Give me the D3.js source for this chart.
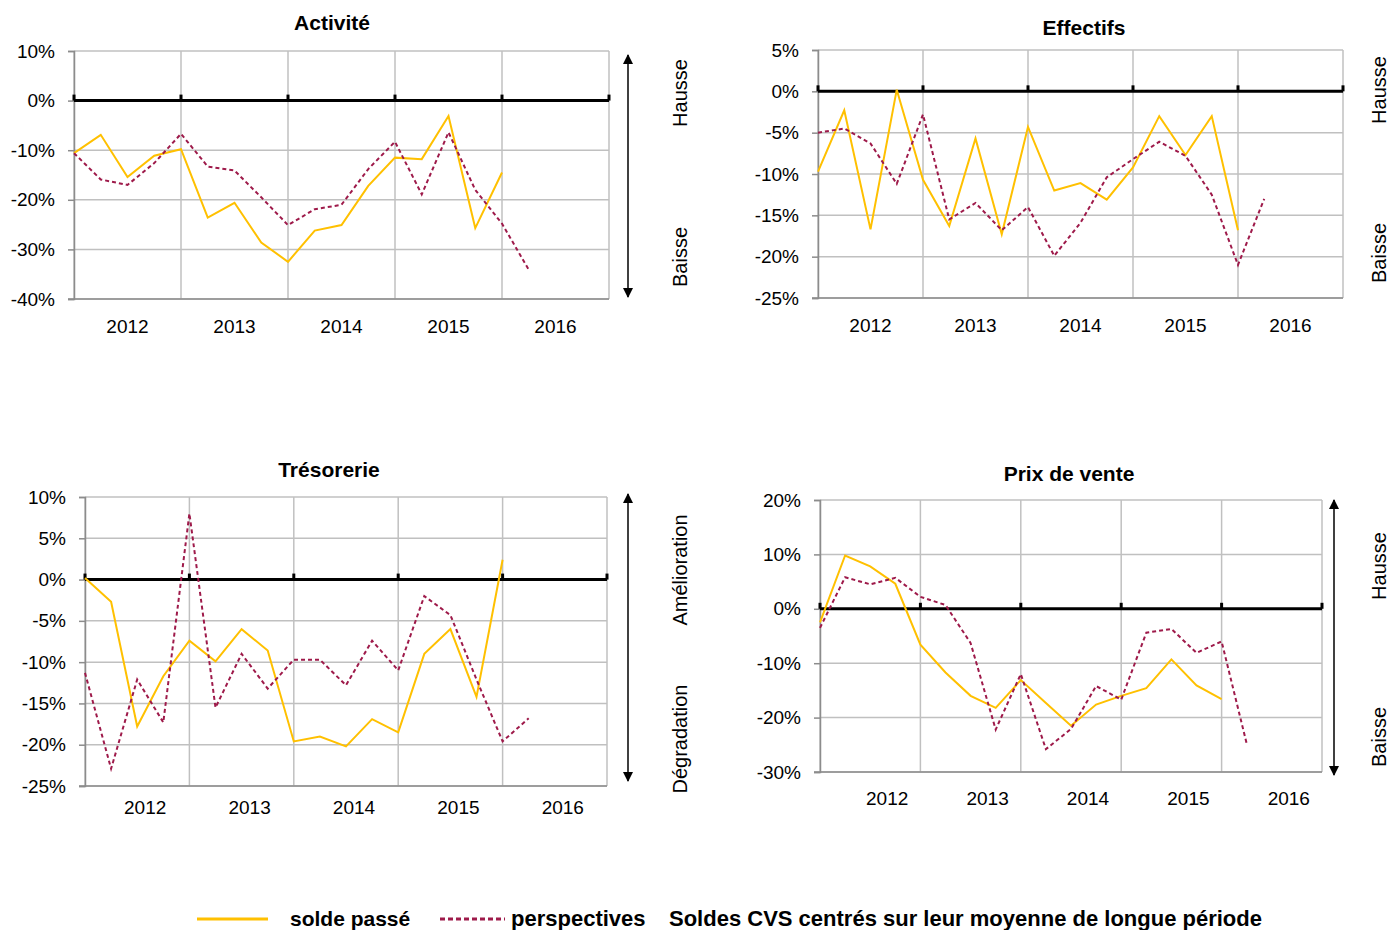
<!DOCTYPE html>
<html>
<head>
<meta charset="utf-8">
<script src="https://cdn.jsdelivr.net/npm/d3@7"></script>
<style>
  body { margin: 0; background: #fff; }
  svg text { font-family: "Liberation Sans", Arial, sans-serif; fill: #000; }
</style>
</head>
<body>
<svg id="chart" width="1389" height="930"></svg>
<script>
// years shown under each panel (4 quarters each)
const years = ["2012", "2013", "2014", "2015", "2016"];

// Activité
const activiteTicks = [10, 0, -10, -20, -30, -40];
const activitePasse = [-10.6, -6.9, -15.4, -11.1, -9.8, -23.6, -20.6, -28.6, -32.5, -26.2, -25.1, -17.2, -11.5, -11.8, -3.1, -25.7, -14.5];
const activitePersp = [-10.6, -15.9, -17.0, -12.6, -6.7, -13.3, -14.1, -19.5, -25.1, -21.9, -21.0, -13.8, -8.3, -18.9, -6.4, -18.0, -24.8, -34.1];

// Effectifs
const effectifsTicks = [5, 0, -5, -10, -15, -20, -25];
const effectifsPasse = [-9.7, -2.3, -16.7, 0.2, -10.7, -16.3, -5.7, -17.3, -4.3, -12.0, -11.1, -13.1, -9.2, -3.0, -7.7, -3.0, -16.8];
const effectifsPersp = [-5.0, -4.5, -6.3, -11.2, -2.8, -15.5, -13.5, -16.8, -14.0, -19.9, -15.9, -10.4, -8.2, -6.1, -7.8, -12.5, -21.0, -13.0];

// Trésorerie
const tresoTicks = [10, 5, 0, -5, -10, -15, -20, -25];
const tresoPasse = [0.2, -2.7, -17.8, -11.7, -7.4, -9.9, -6.0, -8.6, -19.6, -19.0, -20.2, -16.9, -18.5, -9.0, -6.0, -14.2, 2.4];
const tresoPersp = [-11.3, -22.9, -12.1, -17.3, 8.0, -15.5, -9.0, -13.2, -9.7, -9.7, -12.8, -7.4, -11.0, -2.0, -4.3, -12.1, -19.6, -16.8];

// Prix de vente
const prixTicks = [20, 10, 0, -10, -20, -30];
const prixPasse = [-2.5, 9.8, 7.8, 4.6, -6.6, -11.7, -16.0, -18.2, -13.1, -17.3, -21.5, -17.6, -16.0, -14.6, -9.3, -14.1, -16.6];
const prixPersp = [-3.5, 5.8, 4.5, 5.7, 2.2, 0.7, -6.3, -22.2, -12.0, -25.8, -22.1, -14.2, -16.7, -4.4, -3.7, -8.1, -6.0, -24.8];

const YELLOW = "#ffc000", MAROON = "#9e1a4a";

const svg = d3.select("#chart");

const defs = svg.append("defs");
["start", "end"].forEach(k => {
    defs.append("marker")
        .attr("id", "arrow-" + k)
        .attr("viewBox", "0 0 10 10")
        .attr("refX", 9).attr("refY", 5)
        .attr("markerWidth", 10).attr("markerHeight", 12)
        .attr("markerUnits", "userSpaceOnUse")
        .attr("orient", k == "start" ? "auto-start-reverse" : "auto")
        .append("path")
        .attr("d", "M0,0 L10,5 L0,10 Z")
        .attr("fill", "#000");
});

const panels = [
    { title: "Activité", ticks: activiteTicks, passe: activitePasse, persp: activitePersp,
      box: [74, 609, 51, 299], titleXY: [332, 22], tickY: 326, labShift: 0,
      arrow: [628, 55, 297], side: [680, "Hausse", 93, "Baisse", 257] },
    { title: "Effectifs", ticks: effectifsTicks, passe: effectifsPasse, persp: effectifsPersp,
      box: [818, 1343, 50, 298], titleXY: [1084, 27], tickY: 325, labShift: 0,
      arrow: null, side: [1379, "Hausse", 90, "Baisse", 253] },
    { title: "Trésorerie", ticks: tresoTicks, passe: tresoPasse, persp: tresoPersp,
      box: [85, 607, 497, 786], titleXY: [329, 469], tickY: 807, labShift: 8,
      arrow: [628, 494, 781], side: [680, "Amélioration", 570, "Dégradation", 739] },
    { title: "Prix de vente", ticks: prixTicks, passe: prixPasse, persp: prixPersp,
      box: [820, 1322, 500, 772], titleXY: [1069, 473], tickY: 798, labShift: 17,
      arrow: [1334, 500, 775], side: [1379, "Hausse", 566, "Baisse", 737] }
];

panels.forEach(p => {
    const [left, right, top, bottom] = p.box;
    const x = d3.scaleLinear().domain([0, 20]).range([left, right]);
    const y = d3.scaleLinear().domain([d3.min(p.ticks), d3.max(p.ticks)]).range([bottom, top]);
    const g = svg.append("g");

    // horizontal grid
    g.selectAll(".hgrid").data(p.ticks).join("line")
        .attr("x1", left).attr("x2", right)
        .attr("y1", d => y(d)).attr("y2", d => y(d))
        .attr("stroke", "#c0c0c0").attr("stroke-width", 1.5);

    // vertical grid at year boundaries
    const bounds = d3.range(0, 21, 4);
    g.selectAll(".vgrid").data(bounds).join("line")
        .attr("x1", d => x(d)).attr("x2", d => x(d))
        .attr("y1", top).attr("y2", bottom)
        .attr("stroke", "#c0c0c0").attr("stroke-width", 1.5);

    // y axis
    const yAxis = g.append("g")
        .attr("transform", "translate(" + left + ",0)")
        .call(d3.axisLeft(y).tickValues(p.ticks).tickSize(6).tickPadding(13).tickFormat(d => d + "%"));
    yAxis.selectAll("path, line").attr("stroke", "#8c8c8c").attr("stroke-width", 1.5);
    yAxis.selectAll("text").style("font-size", "19px").style("font-family", "Liberation Sans, Arial, sans-serif");

    // x axis baseline
    g.append("line")
        .attr("x1", left - 6).attr("x2", right)
        .attr("y1", bottom).attr("y2", bottom)
        .attr("stroke", "#8c8c8c").attr("stroke-width", 1.5);

    // year labels
    g.selectAll(".year").data(years).join("text")
        .attr("x", (d, i) => x(i * 4 + 2) + p.labShift)
        .attr("y", p.tickY)
        .attr("text-anchor", "middle")
        .attr("dominant-baseline", "central")
        .style("font-size", "19px")
        .text(d => d);

    // zero line with ticks
    g.append("line")
        .attr("x1", left).attr("x2", right)
        .attr("y1", y(0)).attr("y2", y(0))
        .attr("stroke", "#000").attr("stroke-width", 3);
    g.selectAll(".ztick").data(bounds).join("line")
        .attr("x1", d => x(d)).attr("x2", d => x(d))
        .attr("y1", y(0) - 6).attr("y2", y(0))
        .attr("stroke", "#000").attr("stroke-width", 3);

    const line = d3.line().x((d, i) => x(i)).y(d => y(d));

    g.append("path").datum(p.passe)
        .attr("d", line)
        .attr("fill", "none")
        .attr("stroke", YELLOW)
        .attr("stroke-width", 2);

    g.append("path").datum(p.persp)
        .attr("d", line)
        .attr("fill", "none")
        .attr("stroke", MAROON)
        .attr("stroke-width", 2)
        .attr("stroke-dasharray", "4,3");

    // title
    svg.append("text")
        .attr("x", p.titleXY[0]).attr("y", p.titleXY[1])
        .attr("text-anchor", "middle")
        .attr("dominant-baseline", "central")
        .style("font-size", "21px").style("font-weight", "bold")
        .text(p.title);

    // double arrow
    if (p.arrow) {
        svg.append("line")
            .attr("x1", p.arrow[0]).attr("x2", p.arrow[0])
            .attr("y1", p.arrow[1]).attr("y2", p.arrow[2])
            .attr("stroke", "#000").attr("stroke-width", 1.5)
            .attr("marker-start", "url(#arrow-start)")
            .attr("marker-end", "url(#arrow-end)");
    }

    // side labels
    const sx = p.side[0];
    [[p.side[1], p.side[2]], [p.side[3], p.side[4]]].forEach(s => {
        svg.append("text")
            .attr("transform", "translate(" + sx + "," + s[1] + ") rotate(-90)")
            .attr("text-anchor", "middle")
            .attr("dominant-baseline", "central")
            .style("font-size", "20px")
            .text(s[0]);
    });
});

// legend
const legend = svg.append("g").style("font-size", "22px").style("font-weight", "bold");
legend.append("line")
    .attr("x1", 197).attr("x2", 268).attr("y1", 919).attr("y2", 919)
    .attr("stroke", YELLOW).attr("stroke-width", 3);
legend.append("text").attr("x", 290).attr("y", 926).style("font-size", "21px").text("solde passé");
legend.append("line")
    .attr("x1", 440).attr("x2", 505).attr("y1", 919).attr("y2", 919)
    .attr("stroke", MAROON).attr("stroke-width", 3)
    .attr("stroke-dasharray", "5,3");
legend.append("text").attr("x", 511).attr("y", 926).text("perspectives");
legend.append("text").attr("x", 669).attr("y", 926).text("Soldes CVS centrés sur leur moyenne de longue période");
</script>
</body>
</html>
